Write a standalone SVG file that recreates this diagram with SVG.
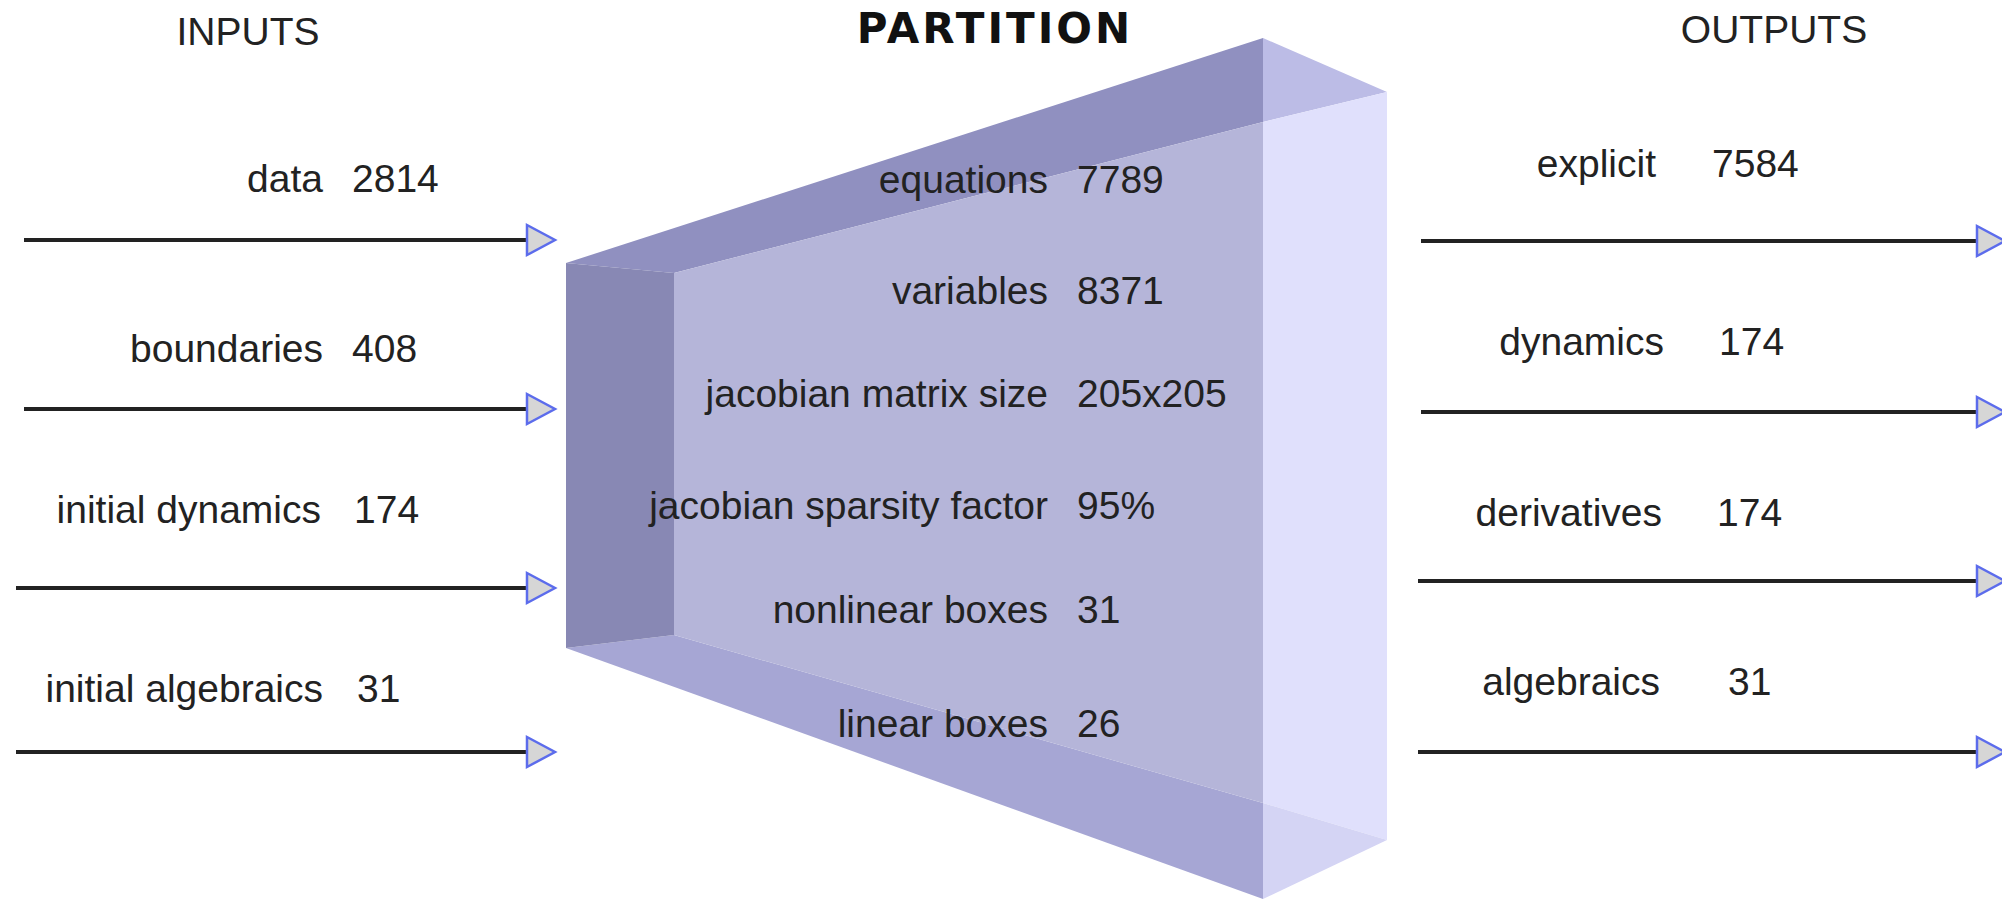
<svg xmlns="http://www.w3.org/2000/svg" width="2002" height="899" viewBox="0 0 2002 899">
  <style>
    text { font-family: "Liberation Sans", Arial, sans-serif; font-size: 39px; fill: #222; }
    .hdr { font-size: 39px; text-anchor: middle; }
    .bold { font-family: "DejaVu Sans", Verdana, sans-serif; font-weight: bold; font-size: 42px; letter-spacing: 3px; fill: #111; }
    .lbl { text-anchor: end; }
    .val { text-anchor: start; }
    .conn { stroke: #222; stroke-width: 4; fill: none; marker-end: url(#arr); }
  </style>
  <defs>
    <marker id="arr" markerUnits="userSpaceOnUse" markerWidth="34" markerHeight="36" refX="2" refY="17" orient="auto" overflow="visible">
      <path d="M2,2 L30,17 L2,32 Z" fill="#d6d6d6" stroke="#5c6cec" stroke-width="2.5" stroke-linejoin="miter"/>
    </marker>
  </defs>
  <rect width="2002" height="899" fill="#ffffff"/>

  <g id="partition">
    <polygon points="566,263 1263,38 1263,122 674,273" fill="#9090c0"/>
    <polygon points="1263,38 1387,92 1263,122" fill="#bcbce6"/>
    <polygon points="1263,122 1387,92 1387,840 1263,803" fill="#e0e0fc"/>
    <polygon points="1263,803 1387,840 1263,899" fill="#d4d4f4"/>
    <polygon points="566,648 674,635 1263,803 1263,899" fill="#a6a6d4"/>
    <polygon points="566,263 674,273 674,635 566,648" fill="#8888b4"/>
    <polygon points="674,273 1263,122 1263,803 674,635" fill="#b5b5d9"/>
    <text class="bold hdr" x="995" y="43">PARTITION</text>
    <text class="lbl" x="1048" y="193">equations</text><text class="val" x="1077" y="193">7789</text>
    <text class="lbl" x="1048" y="304">variables</text><text class="val" x="1077" y="304">8371</text>
    <text class="lbl" x="1048" y="407">jacobian matrix size</text><text class="val" x="1077" y="407">205x205</text>
    <text class="lbl" x="1048" y="519">jacobian sparsity factor</text><text class="val" x="1077" y="519">95%</text>
    <text class="lbl" x="1048" y="623">nonlinear boxes</text><text class="val" x="1077" y="623">31</text>
    <text class="lbl" x="1048" y="737">linear boxes</text><text class="val" x="1077" y="737">26</text>
  </g>

  <g id="inputs">
    <text class="hdr" x="248" y="45">INPUTS</text>
    <g id="in-data"><text class="lbl" x="323" y="192">data</text><text class="val" x="352" y="192">2814</text></g>
    <g id="in-boundaries"><text class="lbl" x="323" y="362">boundaries</text><text class="val" x="352" y="362">408</text></g>
    <g id="in-dynamics"><text class="lbl" x="321" y="523">initial dynamics</text><text class="val" x="354" y="523">174</text></g>
    <g id="in-algebraics"><text class="lbl" x="323" y="702">initial algebraics</text><text class="val" x="357" y="702">31</text></g>
  </g>

  <g id="outputs">
    <text class="hdr" x="1774" y="43">OUTPUTS</text>
    <g id="out-explicit"><text class="lbl" x="1656" y="177">explicit</text><text class="val" x="1712" y="177">7584</text></g>
    <g id="out-dynamics"><text class="lbl" x="1664" y="355">dynamics</text><text class="val" x="1719" y="355">174</text></g>
    <g id="out-derivatives"><text class="lbl" x="1662" y="526">derivatives</text><text class="val" x="1717" y="526">174</text></g>
    <g id="out-algebraics"><text class="lbl" x="1660" y="695">algebraics</text><text class="val" x="1728" y="695">31</text></g>
  </g>

  <g id="connectors">
    <line class="conn" x1="24" y1="240" x2="527" y2="240"/>
    <line class="conn" x1="24" y1="409" x2="527" y2="409"/>
    <line class="conn" x1="16" y1="588" x2="527" y2="588"/>
    <line class="conn" x1="16" y1="752" x2="527" y2="752"/>
    <line class="conn" x1="1421" y1="241" x2="1977" y2="241"/>
    <line class="conn" x1="1421" y1="412" x2="1977" y2="412"/>
    <line class="conn" x1="1418" y1="581" x2="1977" y2="581"/>
    <line class="conn" x1="1418" y1="752" x2="1977" y2="752"/>
  </g>
</svg>
